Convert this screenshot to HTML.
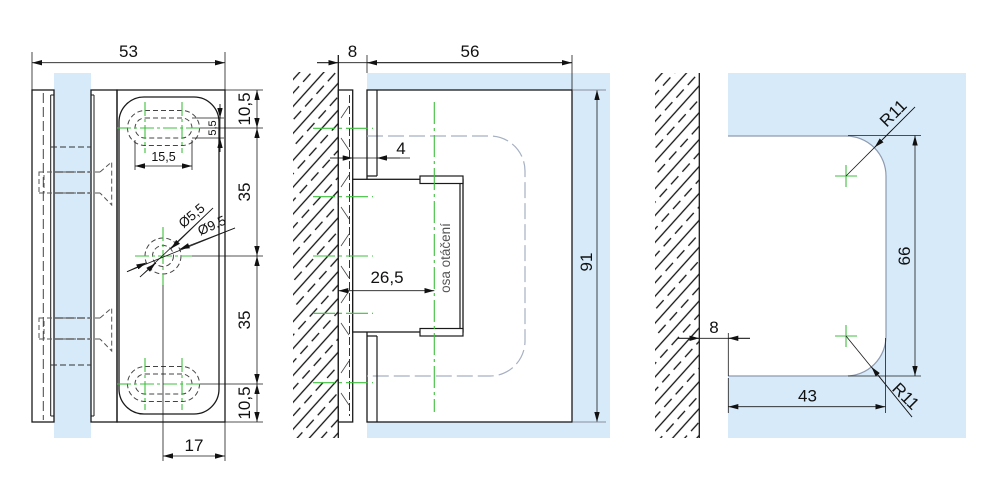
<!DOCTYPE html>
<html><head><meta charset="utf-8">
<style>
html,body{margin:0;padding:0;background:#fff;}
svg{display:block;}
text{font-family:"Liberation Sans",sans-serif;fill:#111;}
</style></head><body>
<svg width="995" height="500" viewBox="0 0 995 500" xmlns="http://www.w3.org/2000/svg">
<defs>
<marker id="a" markerUnits="userSpaceOnUse" markerWidth="11" markerHeight="6" refX="10" refY="2.7" orient="auto-start-reverse"><path d="M0,0 L10,2.7 L0,5.4 z" fill="#111"/></marker>
<pattern id="h" patternUnits="userSpaceOnUse" width="18" height="17" patternTransform="rotate(42)">
<line x1="1" y1="0" x2="1" y2="17" stroke="#111" stroke-width="1.3"/>
<line x1="10" y1="0" x2="10" y2="17" stroke="#111" stroke-width="1.3" stroke-dasharray="11 6"/>
</pattern>
</defs>

<!-- ================= LEFT VIEW ================= -->
<rect x="54" y="73" width="37" height="365" fill="#d6eaf9"/>
<g fill="none" stroke="#1a1a1a" stroke-width="1.3">
  <rect x="32" y="90" width="22" height="332"/>
  <rect x="91" y="90" width="26" height="332"/>
  <rect x="117" y="90" width="108" height="332"/>
  <rect x="119" y="97" width="100" height="317" rx="25" ry="25"/>
</g>
<g fill="none" stroke="#1a1a1a" stroke-width="1">
  <path d="M50.7,95 V416 M50.7,95 H54 M50.7,416 H54"/>
  <path d="M94,95 V416 M91,95 H94 M91,416 H94"/>
</g>
<line x1="43.3" y1="93" x2="43.3" y2="420" stroke="#444" stroke-width="1" stroke-dasharray="10 4"/>
<g stroke="#333" stroke-width="1" stroke-dasharray="6 3" fill="none">
  <line x1="51" y1="147" x2="91" y2="147"/>
  <line x1="51" y1="365" x2="91" y2="365"/>
</g>
<!-- screws -->
<g stroke="#555" stroke-width="1" stroke-dasharray="5 3" fill="none">
  <line x1="39" y1="172" x2="100" y2="172"/>
  <line x1="39" y1="193" x2="100" y2="193"/>
  <rect x="39" y="172" width="5" height="21"/>
  <polyline points="100,172 111.7,162 111.7,205 100,193"/>
  <line x1="39" y1="318" x2="100" y2="318"/>
  <line x1="39" y1="339" x2="100" y2="339"/>
  <rect x="39" y="318" width="5" height="21"/>
  <polyline points="100,318 111.7,308 111.7,351 100,339"/>
</g>
<g stroke="#777" stroke-width="1.8" stroke-dasharray="8 3" fill="none">
  <line x1="55" y1="172" x2="91" y2="172"/>
  <line x1="55" y1="193" x2="91" y2="193"/>
  <line x1="55" y1="318" x2="91" y2="318"/>
  <line x1="55" y1="339" x2="91" y2="339"/>
</g>
<!-- slots -->
<g stroke="#444" stroke-width="1" stroke-dasharray="5 3" fill="none">
  <rect x="135" y="118" width="57" height="20" rx="10" ry="10"/>
  <rect x="127.5" y="110.5" width="72" height="35" rx="17.5" ry="17.5"/>
  <rect x="135" y="374" width="57" height="20" rx="10" ry="10"/>
  <rect x="127.5" y="366.5" width="72" height="35" rx="17.5" ry="17.5"/>
  <circle cx="163" cy="256" r="10.5"/>
  <circle cx="163" cy="256" r="18"/>
</g>
<!-- green centre lines left -->
<g stroke="#3fbf3f" stroke-width="1.1" stroke-dasharray="14 3 3 3" fill="none">
  <line x1="145" y1="102" x2="145" y2="153"/>
  <line x1="182" y1="102" x2="182" y2="153"/>
  <line x1="117" y1="128" x2="200" y2="128"/>
  <line x1="145" y1="358" x2="145" y2="410"/>
  <line x1="182" y1="358" x2="182" y2="410"/>
  <line x1="117" y1="384" x2="200" y2="384"/>
  <line x1="163" y1="227" x2="163" y2="285"/>
  <line x1="135" y1="256" x2="192" y2="256"/>
</g>
<!-- dims left -->
<g stroke="#1a1a1a" stroke-width="0.8" fill="none">
  <line x1="32" y1="52" x2="32" y2="90"/>
  <line x1="225" y1="52" x2="225" y2="90"/>
  <line x1="32" y1="62.7" x2="225" y2="62.7" marker-start="url(#a)" marker-end="url(#a)"/>
  <line x1="225" y1="90" x2="263" y2="90"/>
  <line x1="200" y1="128" x2="263" y2="128"/>
  <line x1="192" y1="256" x2="263" y2="256"/>
  <line x1="200" y1="384" x2="263" y2="384"/>
  <line x1="225" y1="422" x2="263" y2="422"/>
  <line x1="257" y1="90" x2="257" y2="128" marker-start="url(#a)" marker-end="url(#a)"/>
  <line x1="257" y1="128" x2="257" y2="256" marker-start="url(#a)" marker-end="url(#a)"/>
  <line x1="257" y1="256" x2="257" y2="384" marker-start="url(#a)" marker-end="url(#a)"/>
  <line x1="257" y1="384" x2="257" y2="422" marker-start="url(#a)" marker-end="url(#a)"/>
  <line x1="192" y1="118" x2="224" y2="118"/>
  <line x1="192" y1="138" x2="224" y2="138"/>
  <line x1="220" y1="104" x2="220" y2="152"/>
  <line x1="220" y1="104" x2="220" y2="118" marker-end="url(#a)"/>
  <line x1="220" y1="152" x2="220" y2="138" marker-end="url(#a)"/>
  <line x1="135" y1="140" x2="135" y2="170"/>
  <line x1="192" y1="140" x2="192" y2="170"/>
  <line x1="135" y1="166" x2="192" y2="166" marker-start="url(#a)" marker-end="url(#a)"/>
  <line x1="163" y1="285" x2="163" y2="461"/>
  <line x1="225" y1="422" x2="225" y2="461"/>
  <line x1="163" y1="456" x2="225" y2="456" marker-start="url(#a)" marker-end="url(#a)"/>
  <line x1="213" y1="208" x2="140" y2="277"/>
  <line x1="235" y1="228" x2="127" y2="271.7"/>
  <line x1="213" y1="208" x2="170.9" y2="248.8" marker-end="url(#a)"/>
  <line x1="140" y1="277" x2="155.6" y2="263.2" marker-end="url(#a)"/>
  <line x1="235" y1="228" x2="179.7" y2="249.3" marker-end="url(#a)"/>
  <line x1="127" y1="271.7" x2="146.3" y2="262.7" marker-end="url(#a)"/>
</g>
<text x="128.5" y="57" font-size="17" text-anchor="middle">53</text>
<text transform="translate(250,109) rotate(-90)" font-size="17" text-anchor="middle">10,5</text>
<text transform="translate(250,192) rotate(-90)" font-size="17" text-anchor="middle">35</text>
<text transform="translate(250,320) rotate(-90)" font-size="17" text-anchor="middle">35</text>
<text transform="translate(250,403) rotate(-90)" font-size="17" text-anchor="middle">10,5</text>
<text transform="translate(216,128) rotate(-90)" font-size="11" text-anchor="middle">5,5</text>
<text x="163.5" y="161" font-size="12.5" text-anchor="middle">15,5</text>
<text x="194" y="451" font-size="17" text-anchor="middle">17</text>
<text transform="translate(192,216) rotate(-40)" font-size="13.5" text-anchor="middle" dy="4">Ø5,5</text>
<text transform="translate(212,226) rotate(-24)" font-size="13.5" text-anchor="middle" dy="4">Ø9,5</text>

<!-- ================= MIDDLE VIEW ================= -->
<rect x="293" y="72" width="45" height="366" fill="url(#h)"/>
<rect x="367" y="73" width="243" height="365" fill="#d6eaf9"/>
<line x1="338.3" y1="55" x2="338.3" y2="438" stroke="#1a1a1a" stroke-width="1.3"/>
<rect x="338.3" y="90" width="14.4" height="332" fill="#fff" stroke="#1a1a1a" stroke-width="1.3"/>
<line x1="349.5" y1="95" x2="349.5" y2="416" stroke="#333" stroke-width="1" stroke-dasharray="8 3"/>
<g stroke="#444" stroke-width="0.8" fill="none">
  <path d="M341,118 L349,106 M341,138 L349,150"/>
  <path d="M341,187 L349,175 M341,207 L349,219"/>
  <path d="M341,246 L349,234 M341,266 L349,278"/>
  <path d="M341,303 L349,291 M341,323 L349,335"/>
  <path d="M341,373 L349,361 M341,393 L349,405"/>
</g>
<rect x="367" y="90" width="205" height="332" fill="#fff" stroke="#1a1a1a" stroke-width="1.3"/>
<path d="M367,136 H490 A35,35 0 0 1 525,171 V341 A35,35 0 0 1 490,376 H367" fill="none" stroke="#a6b0c2" stroke-width="1.2" stroke-dasharray="16 5"/>
<rect x="352.7" y="179.3" width="110.3" height="152.7" fill="#fff" stroke="#1a1a1a" stroke-width="1.3"/>
<g fill="#fff" stroke="#1a1a1a" stroke-width="1.2">
  <rect x="420" y="176" width="43" height="7.5"/>
  <rect x="420" y="328.5" width="43" height="7.5"/>
</g>
<g stroke="#1a1a1a" stroke-width="1.2" fill="none">
  <path d="M460,183.5 V328.5"/>
  <path d="M377,90 V176 M367,176 H377"/>
  <path d="M377,336 V422 M367,336 H377"/>
</g>
<line x1="434.3" y1="102" x2="434.3" y2="412" stroke="#3fbf3f" stroke-width="1.1" stroke-dasharray="22 4 3 4"/>
<g stroke="#3fbf3f" stroke-width="1.1" stroke-dasharray="22 4 3 4" fill="none">
  <line x1="313" y1="128.3" x2="373" y2="128.3"/>
  <line x1="313" y1="196.7" x2="373" y2="196.7"/>
  <line x1="313" y1="256" x2="373" y2="256"/>
  <line x1="313" y1="313.3" x2="373" y2="313.3"/>
  <line x1="313" y1="382.7" x2="373" y2="382.7"/>
</g>
<text transform="translate(450,258) rotate(-90)" font-size="13.5" text-anchor="middle" style="fill:#555">osa otáčení</text>
<g stroke="#1a1a1a" stroke-width="0.8" fill="none">
  <line x1="367" y1="55" x2="367" y2="73"/>
  <line x1="572" y1="55" x2="572" y2="90"/>
  <line x1="317" y1="62.7" x2="572" y2="62.7"/>
  <line x1="317" y1="62.7" x2="338.3" y2="62.7" marker-end="url(#a)"/>
  <line x1="367" y1="62.7" x2="572" y2="62.7" marker-start="url(#a)" marker-end="url(#a)"/>
  <line x1="330" y1="158" x2="410" y2="158"/>
  <line x1="330" y1="158" x2="352.7" y2="158" marker-end="url(#a)"/>
  <line x1="400" y1="158" x2="377" y2="158" marker-end="url(#a)"/>
  <line x1="338.3" y1="290.7" x2="434.3" y2="290.7" marker-start="url(#a)" marker-end="url(#a)"/>
  <line x1="597" y1="90" x2="597" y2="422" marker-start="url(#a)" marker-end="url(#a)"/>
</g>
<g stroke="#8a8f99" stroke-width="0.9">
  <line x1="573" y1="90" x2="606" y2="90"/>
  <line x1="573" y1="422" x2="606" y2="422"/>
</g>
<text x="352.5" y="57" font-size="17" text-anchor="middle">8</text>
<text x="470" y="57" font-size="17" text-anchor="middle">56</text>
<text x="401" y="154" font-size="17" text-anchor="middle">4</text>
<text x="387" y="283" font-size="17" text-anchor="middle">26,5</text>
<text transform="translate(592,262) rotate(-90)" font-size="17" text-anchor="middle">91</text>

<!-- ================= RIGHT VIEW ================= -->
<rect x="655" y="73" width="44" height="365" fill="url(#h)"/>
<line x1="699.3" y1="73" x2="699.3" y2="438" stroke="#1a1a1a" stroke-width="1.3"/>
<path d="M728,73 H966 V438 H728 V376 H846 A40,40 0 0 0 886,336 V176 A40,40 0 0 0 846,136 H728 Z" fill="#d6eaf9"/>
<path d="M728,136 H846 A40,40 0 0 1 886,176 V336 A40,40 0 0 1 846,376 H728" fill="none" stroke="#8e9bb0" stroke-width="1.2"/>
<g stroke="#3fbf3f" stroke-width="1.1">
  <line x1="835" y1="176" x2="857" y2="176"/>
  <line x1="846" y1="165" x2="846" y2="187"/>
  <line x1="835" y1="336" x2="857" y2="336"/>
  <line x1="846" y1="325" x2="846" y2="347"/>
</g>
<g stroke="#1a1a1a" stroke-width="0.8" fill="none">
  <line x1="846" y1="176" x2="915" y2="107"/>
  <line x1="915" y1="107" x2="874.6" y2="147.4" marker-end="url(#a)"/>
  <line x1="846" y1="336" x2="912" y2="417"/>
  <line x1="912" y1="417" x2="871.5" y2="367" marker-end="url(#a)"/>
  <line x1="848" y1="135.5" x2="921" y2="135.5"/>
  <line x1="848" y1="376" x2="921" y2="376"/>
  <line x1="915" y1="135.5" x2="915" y2="376" marker-start="url(#a)" marker-end="url(#a)"/>
  <line x1="885.5" y1="338" x2="885.5" y2="413"/>
  <line x1="728.3" y1="378" x2="728.3" y2="413"/>
  <line x1="728.3" y1="333" x2="728.3" y2="376"/>
  <line x1="728.3" y1="406.7" x2="885.5" y2="406.7" marker-start="url(#a)" marker-end="url(#a)"/>
  <line x1="678" y1="338.3" x2="750" y2="338.3"/>
  <line x1="678" y1="338.3" x2="699.3" y2="338.3" marker-end="url(#a)"/>
  <line x1="750" y1="338.3" x2="728.3" y2="338.3" marker-end="url(#a)"/>
</g>
<text x="714" y="333" font-size="17" text-anchor="middle">8</text>
<text x="807.5" y="401.7" font-size="17" text-anchor="middle">43</text>
<text transform="translate(910,256) rotate(-90)" font-size="17" text-anchor="middle">66</text>
<text transform="translate(893,113) rotate(-45)" font-size="17" text-anchor="middle" dy="6">R11</text>
<text transform="translate(906,396) rotate(45)" font-size="17" text-anchor="middle" dy="6">R11</text>
</svg>
</body></html>
